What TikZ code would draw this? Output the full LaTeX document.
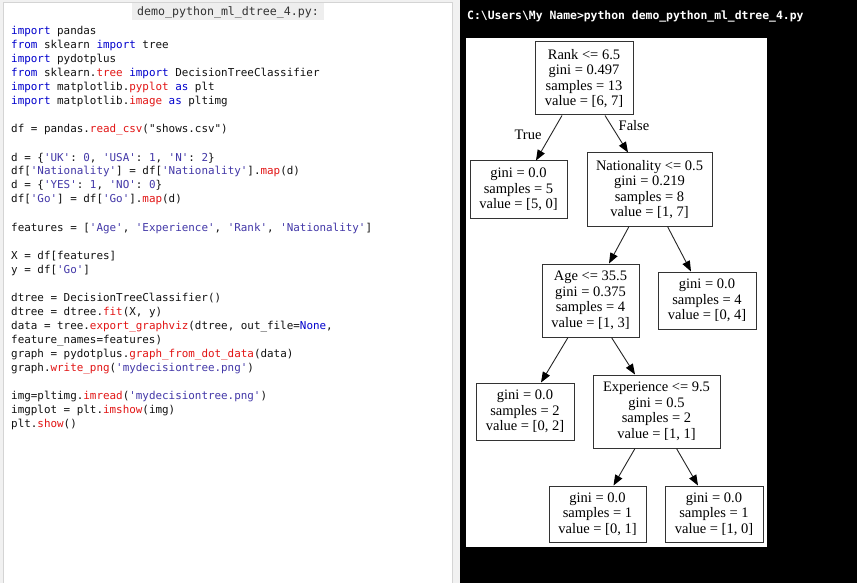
\documentclass[tikz,border=0pt]{standalone}
\usepackage{fontspec}
\setmainfont{Liberation Serif}
\setmonofont{DejaVu Sans Mono}
\usetikzlibrary{arrows.meta}
\definecolor{kwc}{HTML}{0000CD}
\definecolor{fnc}{HTML}{E21515}
\definecolor{stc}{HTML}{4338A8}
\definecolor{txc}{HTML}{111111}
\definecolor{pagegray}{HTML}{F1F1F1}
\definecolor{bordergray}{HTML}{D4D4D4}
\definecolor{tabgray}{HTML}{EEEEEE}
\definecolor{boxc}{HTML}{333333}
\newcommand{\kw}[1]{\textcolor{kwc}{#1}}
\newcommand{\fn}[1]{\textcolor{fnc}{#1}}
\newcommand{\strc}[1]{\textcolor{stc}{#1}}
\begin{document}
\begin{tikzpicture}[x=1pt,y=-1pt,
  codeline/.style={anchor=base west,inner sep=0pt,text=txc,font=\ttfamily\fontsize{10.9}{13}\selectfont},
  treebox/.style={draw=boxc,line width=1pt,align=center,inner sep=0pt,
    font=\fontsize{14.5}{15.6}\selectfont},
  edgelab/.style={inner sep=0pt,font=\fontsize{14.5}{15.6}\selectfont},
  edge/.style={draw=black!85,line width=0.9pt,-{Triangle[length=10.5pt,width=8pt,color=black,fill=black]}}]
\useasboundingbox (0,0) rectangle (857,583);
% left panel
\fill[pagegray] (0,0) rectangle (460,583);
\fill[white] (3.5,2) rectangle (452,583);
\draw[bordergray,line width=0.8pt] (3.5,583) -- (3.5,2) -- (452,2) -- (452,583);
\fill[tabgray] (132,3) rectangle (324,20);
\node[anchor=base,inner sep=0pt,text=black!80,font=\ttfamily\fontsize{11.6}{13}\selectfont] (title) at (228,16) {demo\_python\_ml\_dtree\_4.py:};
% code
\node[codeline] (c0) at (11,35) {\kw{import} pandas};
\node[codeline] (c1) at (11,49) {\kw{from} sklearn \kw{import} tree};
\node[codeline] (c2) at (11,63) {\kw{import} pydotplus};
\node[codeline] (c3) at (11,77) {\kw{from} sklearn.\fn{tree} \kw{import} DecisionTreeClassifier};
\node[codeline] (c4) at (11,91) {\kw{import} matplotlib.\fn{pyplot} \kw{as} plt};
\node[codeline] (c5) at (11,105) {\kw{import} matplotlib.\fn{image} \kw{as} pltimg};
\node[codeline] (c7) at (11,133) {df = pandas.\fn{read\_csv}("shows.csv")};
\node[codeline] (c9) at (11,161) {d = \{\strc{'UK'}: \strc{0}, \strc{'USA'}: \strc{1}, \strc{'N'}: \strc{2}\}};
\node[codeline] (c10) at (11,175) {df[\strc{'Nationality'}] = df[\strc{'Nationality'}].\fn{map}(d)};
\node[codeline] (c11) at (11,189) {d = \{\strc{'YES'}: \strc{1}, \strc{'NO'}: \strc{0}\}};
\node[codeline] (c12) at (11,203) {df[\strc{'Go'}] = df[\strc{'Go'}].\fn{map}(d)};
\node[codeline] (c14) at (11,231) {features = [\strc{'Age'}, \strc{'Experience'}, \strc{'Rank'}, \strc{'Nationality'}]};
\node[codeline] (c16) at (11,259) {X = df[features]};
\node[codeline] (c17) at (11,273) {y = df[\strc{'Go'}]};
\node[codeline] (c19) at (11,301) {dtree = DecisionTreeClassifier()};
\node[codeline] (c20) at (11,315) {dtree = dtree.\fn{fit}(X, y)};
\node[codeline] (c21) at (11,329) {data = tree.\fn{export\_graphviz}(dtree, out\_file=\kw{None},};
\node[codeline] (c22) at (11,343) {feature\_names=features)};
\node[codeline] (c23) at (11,357) {graph = pydotplus.\fn{graph\_from\_dot\_data}(data)};
\node[codeline] (c24) at (11,371) {graph.\fn{write\_png}(\strc{'mydecisiontree.png'})};
\node[codeline] (c26) at (11,399) {img=pltimg.\fn{imread}(\strc{'mydecisiontree.png'})};
\node[codeline] (c27) at (11,413) {imgplot = plt.\fn{imshow}(img)};
\node[codeline] (c28) at (11,427) {plt.\fn{show}()};
% console
\fill[black] (460,0) rectangle (857,583);
\node[anchor=base west,inner sep=0pt,text=white,font=\ttfamily\bfseries\fontsize{11.4}{13}\selectfont] (cmd) at (467,19.5) {C:\textbackslash Users\textbackslash My Name>python demo\_python\_ml\_dtree\_4.py};
\fill[white] (466,38) rectangle (767,547);
% tree
\node[treebox,minimum width=98pt,minimum height=73pt] (root) at (584,78.5) {Rank <= 6.5\\gini = 0.497\\samples = 13\\value = [6, 7]};
\node[treebox,minimum width=97pt,minimum height=57pt] (l5) at (518.5,189.5) {gini = 0.0\\samples = 5\\value = [5, 0]};
\node[treebox,minimum width=125pt,minimum height=73pt] (nat) at (649.5,189.5) {Nationality <= 0.5\\gini = 0.219\\samples = 8\\value = [1, 7]};
\node[treebox,minimum width=97pt,minimum height=73pt] (age) at (590.5,300.5) {Age <= 35.5\\gini = 0.375\\samples = 4\\value = [1, 3]};
\node[treebox,minimum width=98pt,minimum height=57pt] (l4) at (707,300.5) {gini = 0.0\\samples = 4\\value = [0, 4]};
\node[treebox,minimum width=98pt,minimum height=57pt] (l2) at (525,411.5) {gini = 0.0\\samples = 2\\value = [0, 2]};
\node[treebox,minimum width=127pt,minimum height=73pt] (exp) at (656.5,411.5) {Experience <= 9.5\\gini = 0.5\\samples = 2\\value = [1, 1]};
\node[treebox,minimum width=97pt,minimum height=56pt] (l01) at (597.5,514) {gini = 0.0\\samples = 1\\value = [0, 1]};
\node[treebox,minimum width=98pt,minimum height=56pt] (l10) at (714,514) {gini = 0.0\\samples = 1\\value = [1, 0]};
\draw[edge] ([xshift=-22pt]root.south) -- ([xshift=17.5pt]l5.north);
\draw[edge] ([xshift=21pt]root.south) -- ([xshift=-21.5pt]nat.north);
\draw[edge] ([xshift=-20.5pt]nat.south) -- ([xshift=18.5pt]age.north);
\draw[edge] ([xshift=18pt]nat.south) -- ([xshift=-16pt]l4.north);
\draw[edge] ([xshift=-22.5pt]age.south) -- ([xshift=16pt]l2.north);
\draw[edge] ([xshift=21pt]age.south) -- ([xshift=-21.5pt]exp.north);
\draw[edge] ([xshift=-21.5pt]exp.south) -- ([xshift=16pt]l01.north);
\draw[edge] ([xshift=20pt]exp.south) -- ([xshift=-16pt]l10.north);
\node[edgelab] (ltrue) at (528,135) {True};
\node[edgelab] (lfalse) at (634,126) {False};
\end{tikzpicture}
\end{document}
